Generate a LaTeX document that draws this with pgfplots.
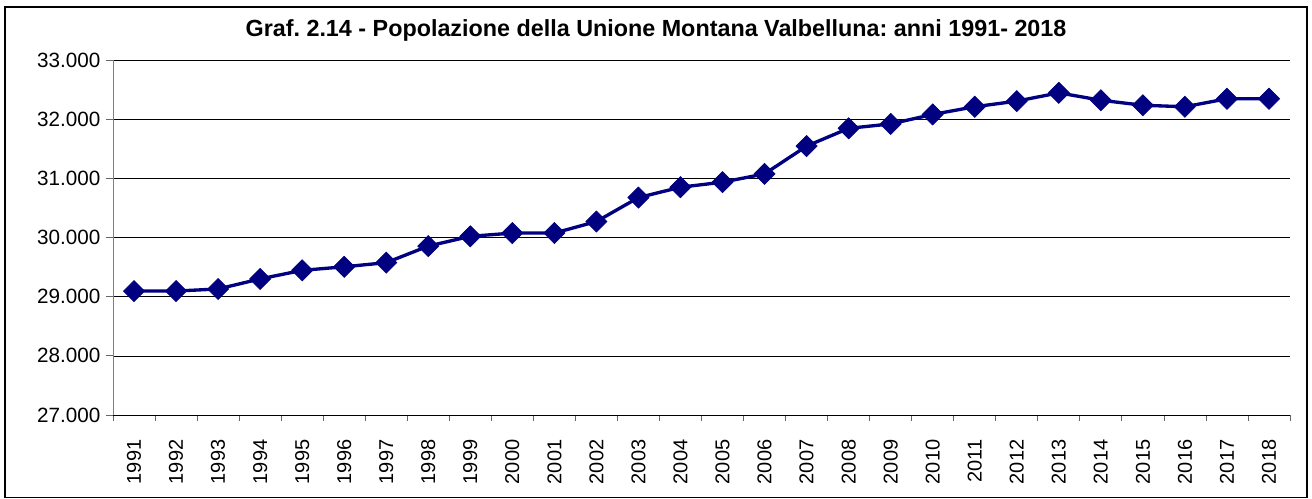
\documentclass[border=0pt]{standalone}
\usepackage{pgfplots}
\pgfplotsset{compat=1.18}
\usepackage{fontspec}
\setmainfont{Liberation Sans}
\frenchspacing
\definecolor{navyline}{RGB}{0,0,128}
\begin{document}
\begin{tikzpicture}
\useasboundingbox (0,0) rectangle (984pt,-374.25pt);
\draw[line width=1.1pt] (3.75pt,-5.25pt) rectangle (980.25pt,-373pt);
\node[font=\bfseries\fontsize{17.5}{20}\selectfont] at (492pt,-22.5pt) {Graf.\ 2.14 - Popolazione della Unione Montana Valbelluna: anni 1991- 2018};
\begin{axis}[
  scale only axis,
  width=882.75pt, height=266.25pt,
  at={(84.75pt,-311.25pt)}, anchor=south west,
  xmin=-0.5, xmax=27.5,
  ymin=27000, ymax=33000,
  ytick={27000,28000,...,33000},
  xtick={0,...,27},
  xticklabels={1991,1992,1993,1994,1995,1996,1997,1998,1999,2000,2001,2002,2003,2004,2005,2006,2007,2008,2009,2010,2011,2012,2013,2014,2015,2016,2017,2018},
  minor xtick={-0.5,0.5,...,27.5},
  major x tick style={draw=none},
  minor x tick style={black!60, line width=0.6pt},
  y tick style={black!60, line width=0.6pt},
  tick align=outside,
  major tick length=5pt, minor tick length=4.5pt,
  axis x line*=bottom, axis y line*=left,
  x axis line style={black, line width=0.6pt, -},
  y axis line style={black!50, line width=0.6pt, -},
  ymajorgrids,
  grid style={black, line width=0.5pt},
  /pgf/number format/assume math mode=true,
  /pgf/number format/.cd, 1000 sep={.}, fixed, precision=0,
  /pgfplots/.cd,
  scaled y ticks=false,
  yticklabel style={font=\fontsize{15.5}{15.5}\selectfont, xshift=-1pt},
  xticklabel style={font=\fontsize{15}{15}\selectfont, rotate=90, anchor=east, xshift=-10pt},
  clip=false,
]
\addplot[color=navyline, line width=2.5pt, mark=square*, mark size=5.6pt, mark options={rotate=45, fill=navyline, line width=0.5pt}]
coordinates {
(0,29095) (1,29095) (2,29130) (3,29300) (4,29445) (5,29505) (6,29575) (7,29855)
(8,30020) (9,30075) (10,30075) (11,30270) (12,30675) (13,30850) (14,30935) (15,31075)
(16,31545) (17,31845) (18,31920) (19,32080) (20,32210) (21,32305) (22,32445) (23,32320)
(24,32235) (25,32210) (26,32345) (27,32345)
};
\end{axis}
\end{tikzpicture}
\end{document}
